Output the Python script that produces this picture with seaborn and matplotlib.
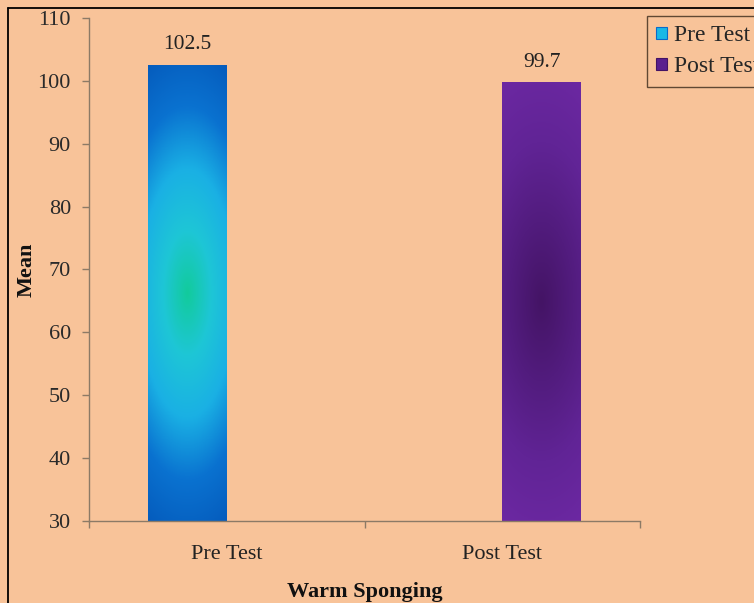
import numpy as np
import pandas as pd
import matplotlib
matplotlib.use("Agg")
import matplotlib.pyplot as plt
import seaborn as sns
from matplotlib.colors import LinearSegmentedColormap
from matplotlib.patches import Patch
from matplotlib.lines import Line2D

categories = ["Pre Test", "Post Test"]
groups = ["Pre Test", "Post Test"]
means = [102.5, 99.7]
yticks = [30, 40, 50, 60, 70, 80, 90, 100, 110]

BG = "#f8c399"
AXC = "#8c7a66"
SERIF = ["Liberation Serif", "DejaVu Serif"]

sns.set_theme(style="white")
plt.rcParams["font.family"] = SERIF

df = pd.DataFrame({"Group": categories, "Series": groups, "Mean": means})

fig = plt.figure(figsize=(7.54, 6.03), dpi=100, facecolor=BG)
ax = fig.add_axes([89/754, 1-521/603, (640-89)/754, (521-18)/603])
ax.set_facecolor(BG)

sns.barplot(data=df, x="Group", y="Mean", hue="Series", order=categories,
            hue_order=groups, width=0.57, dodge=True, palette=["#1a9ee0", "#6a2aa0"],
            legend=False, ax=ax, edgecolor="none", linewidth=0)

ax.set_ylim(30, 110)
ax.set_xlim(-0.5, 1.5)

cmaps = [
    LinearSegmentedColormap.from_list("pre", ["#12cb9c", "#1ec6d6", "#1ab0e4", "#0a72d0", "#055cbd"]),
    LinearSegmentedColormap.from_list("post", ["#441465", "#521c7e", "#612496", "#6c28a2"]),
]
ymin = ax.get_ylim()[0]
bars = [p for p in ax.patches if p.get_height() > 0]
bars.sort(key=lambda p: p.get_x())
for i, p in enumerate(bars):
    x0, w, h = p.get_x(), p.get_width(), p.get_height()
    y0, y1 = ymin, h
    ny, nx = 300, 80
    yy, xx = np.mgrid[-1:1:ny*1j, -1:1:nx*1j]
    r = np.sqrt(xx**2 * 0.2 + yy**2)
    r = np.clip(r / r.max(), 0, 1)
    ax.imshow(r, cmap=cmaps[i], extent=[x0, x0 + w, y0, y1], aspect="auto",
              origin="lower", zorder=p.get_zorder() + 0.1, vmin=0, vmax=1,
              interpolation="bilinear")
    ax.text(x0 + w/2, h + 1.7, f"{h:.1f}", ha="center", va="bottom",
            fontsize=15.5, color="#222222")
ax.set_xlim(-0.5, 1.5)
ax.set_ylim(30, 110)

for s in ["top", "right"]:
    ax.spines[s].set_visible(False)
for s in ["left", "bottom"]:
    ax.spines[s].set_color(AXC)
    ax.spines[s].set_linewidth(1.0)

ax.set_yticks(yticks)
ax.set_yticklabels([str(v) for v in yticks], fontsize=16, color="#2a2a2a")
ax.tick_params(axis="y", length=5, color=AXC, width=1, pad=8, left=True)
ax.set_xticks([0, 1])
ax.set_xticklabels(categories, fontsize=16, color="#222222")
ax.tick_params(axis="x", length=0, pad=17)
ax.set_xticks([-0.5, 0.5, 1.5], minor=True)
ax.tick_params(axis="x", which="minor", length=5, color=AXC, width=1, bottom=True)

ax.set_xlabel("Warm Sponging", fontsize=16, fontweight="bold", labelpad=13, color="#111111")
ax.set_ylabel("Mean", fontsize=16, fontweight="bold", color="#111111")
ax.yaxis.set_label_coords(-0.095, 0.5)

handles = [Patch(facecolor="#1ab8e6", edgecolor="#0a6acb", linewidth=0.8),
           Patch(facecolor="#5a1f8e", edgecolor="#431364", linewidth=0.8)]
leg = fig.legend(handles, groups, loc="upper left",
                 bbox_to_anchor=(647/754, 1-16/603), frameon=True, fancybox=False,
                 fontsize=17, handlelength=0.45, handleheight=0.45, handletextpad=0.3,
                 labelspacing=0.42, borderpad=0.4, borderaxespad=0)
leg.get_frame().set_edgecolor("#3a2a1a")
leg.get_frame().set_facecolor(BG)
leg.get_frame().set_linewidth(1.0)

fig.add_artist(Line2D([8/754, 8/754], [0, 1-8/603], transform=fig.transFigure, color="black", lw=1.3))
fig.add_artist(Line2D([8/754, 1], [1-8/603, 1-8/603], transform=fig.transFigure, color="black", lw=1.3))

fig.savefig("out.png", dpi=100, facecolor=BG)
